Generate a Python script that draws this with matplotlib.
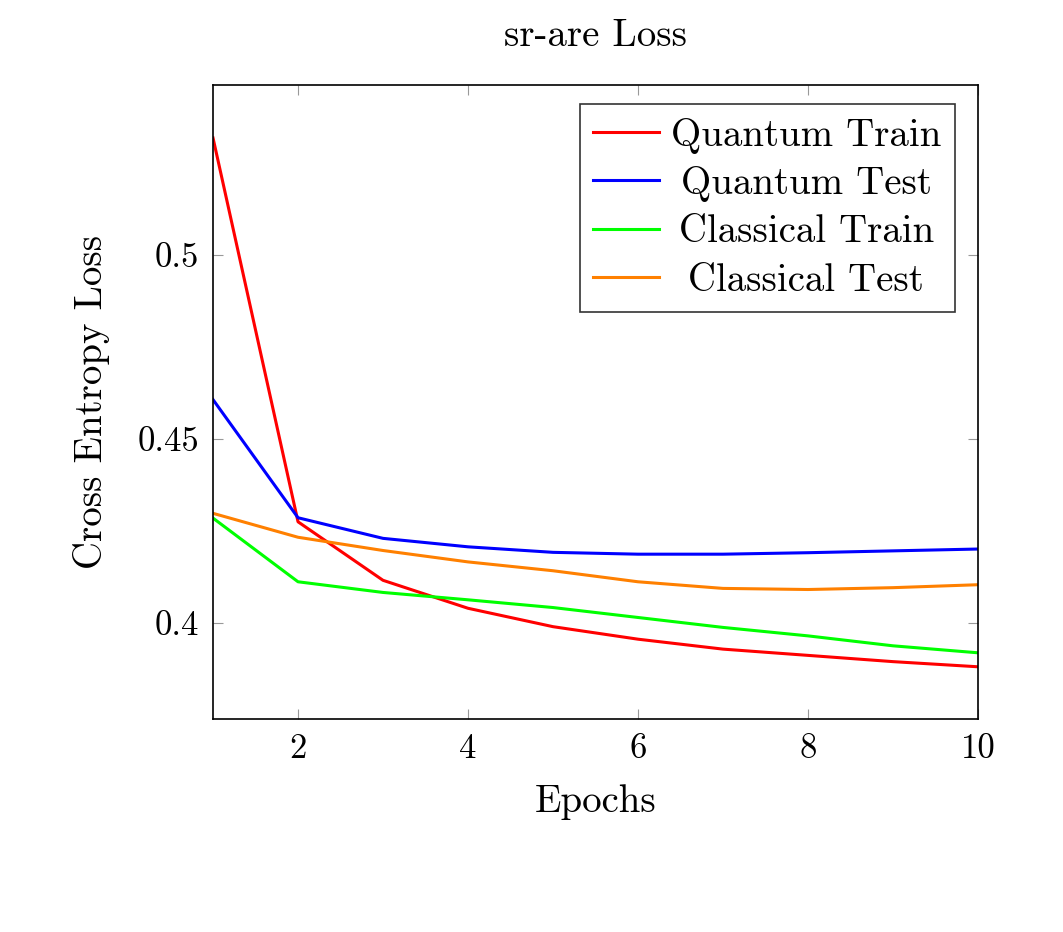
import numpy as np
import matplotlib
matplotlib.use('Agg')
import matplotlib.pyplot as plt

plt.rcParams['font.family'] = ['cmr10', 'DejaVu Serif']
plt.rcParams['mathtext.fontset'] = 'cm'
plt.rcParams['axes.formatter.use_mathtext'] = True

# Data
epochs = [1, 2, 3, 4, 5, 6, 7, 8, 9, 10]
quantum_train = [0.5318, 0.4275, 0.4116, 0.4040, 0.3990, 0.3956, 0.3929, 0.3912, 0.3895, 0.3881]
quantum_test = [0.4607, 0.4286, 0.4230, 0.4207, 0.4192, 0.4187, 0.4187, 0.4191, 0.4196, 0.4201]
classical_train = [0.4285, 0.4112, 0.4083, 0.4063, 0.4042, 0.4015, 0.3988, 0.3965, 0.3938, 0.3919]
classical_test = [0.4298, 0.4233, 0.4197, 0.4166, 0.4142, 0.4112, 0.4094, 0.4091, 0.4096, 0.4104]

x_ticks = [2, 4, 6, 8, 10]
y_ticks = [0.4, 0.45, 0.5]
y_tick_labels = ['0.4', '0.45', '0.5']

fig = plt.figure(figsize=(10.63, 9.32), dpi=100)
ax = fig.add_axes([0.2004, 0.2285, 0.7196, 0.6803])

lw = 2.2
ax.plot(epochs, quantum_train, color=(1, 0, 0), lw=lw, label='Quantum Train')
ax.plot(epochs, quantum_test, color=(0, 0, 1), lw=lw, label='Quantum Test')
ax.plot(epochs, classical_train, color=(0, 1, 0), lw=lw, label='Classical Train')
ax.plot(epochs, classical_test, color=(1, 0.5, 0), lw=lw, label='Classical Test')

ax.set_xlim(1, 10)
ax.set_ylim(0.3739, 0.5462)
ax.set_xticks(x_ticks)
ax.set_xticklabels([str(t) for t in x_ticks])
ax.set_yticks(y_ticks)
ax.set_yticklabels(y_tick_labels)

ax.tick_params(direction='in', length=7, width=0.8, color='#999999',
               top=True, right=True, labelsize=25, pad=10)
for s in ax.spines.values():
    s.set_linewidth(1.2)
    s.set_color('black')

ax.set_xlabel('Epochs', fontsize=28, labelpad=14)
ax.set_ylabel('Cross Entropy Loss', fontsize=28, labelpad=20)
ax.set_title('sr-are Loss', fontsize=28, pad=28)

leg = ax.legend(loc='upper right', bbox_to_anchor=(0.970, 0.970), fontsize=28,
                frameon=True, fancybox=False, framealpha=1, edgecolor='#333333',
                handlelength=1.7, handletextpad=0.3, borderpad=0.35, labelspacing=0.32,
                borderaxespad=0)
leg.get_frame().set_linewidth(1.2)

# centre the legend entries like pgfplots does
fig.canvas.draw()
renderer = fig.canvas.get_renderer()
widths = [t.get_window_extent(renderer).width for t in leg.get_texts()]
for t, w in zip(leg.get_texts(), widths):
    t.set_position(((max(widths) - w) / 2, 0))

plt.savefig('out.png', dpi=100)
